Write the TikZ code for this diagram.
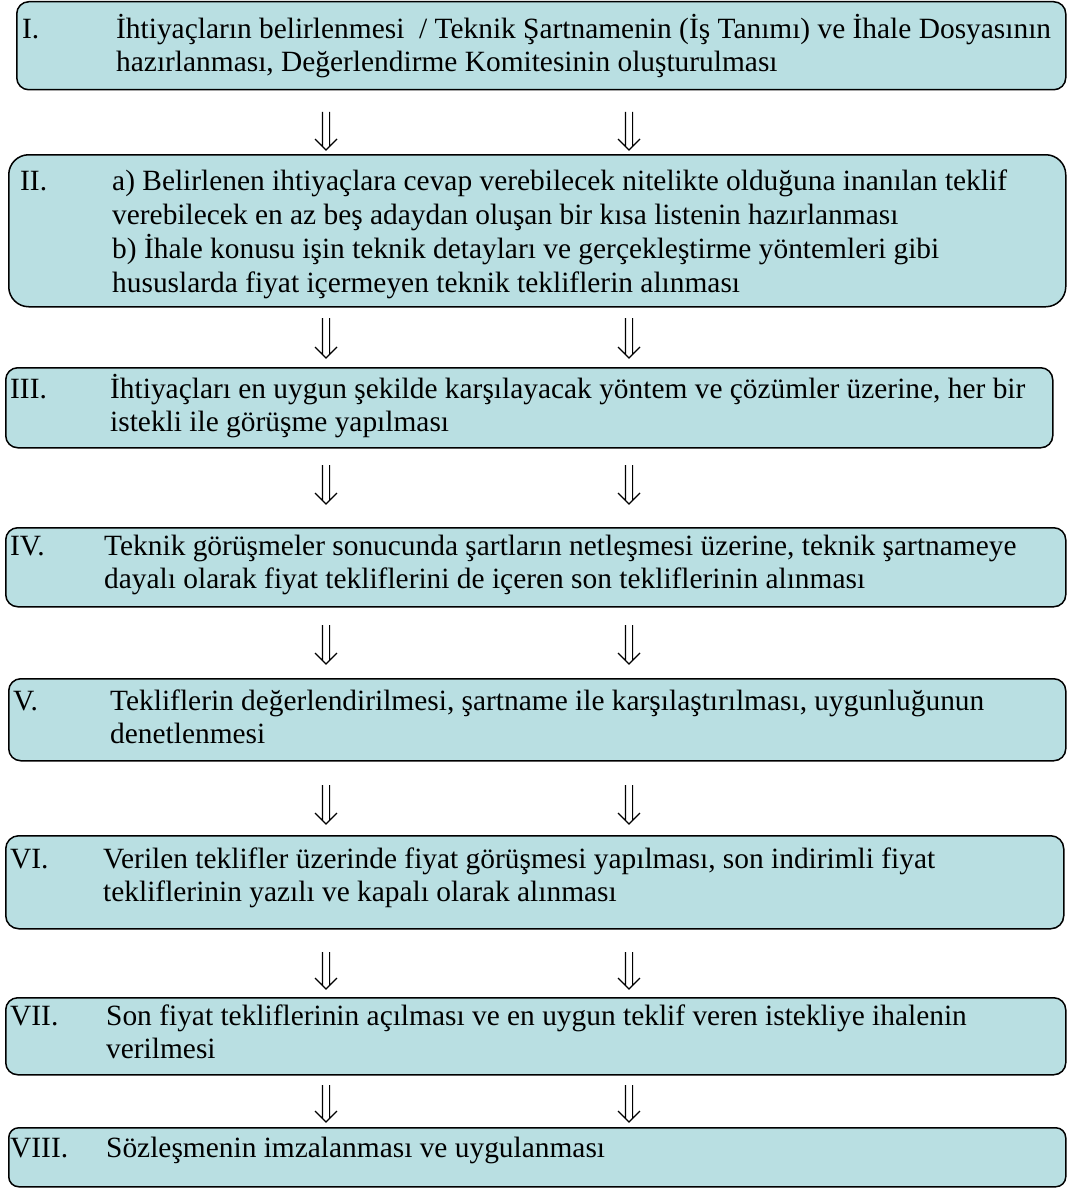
\documentclass[tikz,border=0pt]{standalone}
\usepackage{fontspec}
\setmainfont{Liberation Serif}
\definecolor{boxfill}{RGB}{185,223,226}
\tikzset{
  box/.style={draw=black, line width=1.5pt, fill=boxfill, rectangle, anchor=north west, inner sep=0pt},
  lbl/.style={anchor=base west, inner sep=0pt, font=\fontsize{29.4}{33}\selectfont},
  body/.style={anchor=base west, inner sep=0pt, font=\fontsize{29.4}{33}\selectfont},
  dbl/.style={line width=1.2pt, to path={
    ([xshift=-3.6pt]\tikztostart) -- ([xshift=-3.6pt,yshift=3.6pt]\tikztotarget)
    ([xshift=3.6pt]\tikztostart) -- ([xshift=3.6pt,yshift=3.6pt]\tikztotarget)
    ([xshift=-11pt,yshift=11pt]\tikztotarget) -- (\tikztotarget) -- ([xshift=11pt,yshift=11pt]\tikztotarget)}}
}
\begin{document}
\begin{tikzpicture}[x=1pt,y=-1pt]
\useasboundingbox (0,0) rectangle (1068,1188);
% boxes
\node[box, rounded corners=12pt, minimum width=1049pt, minimum height=88pt] (b1) at (16,1) {};
\node[box, rounded corners=20pt, minimum width=1057pt, minimum height=152pt] (b2) at (8,154) {};
\node[box, rounded corners=12pt, minimum width=1047pt, minimum height=80pt] (b3) at (5,367) {};
\node[box, rounded corners=12pt, minimum width=1060pt, minimum height=79pt] (b4) at (5,527) {};
\node[box, rounded corners=12pt, minimum width=1057pt, minimum height=82pt] (b5) at (8,678) {};
\node[box, rounded corners=13pt, minimum width=1058pt, minimum height=93pt] (b6) at (5,835) {};
\node[box, rounded corners=12pt, minimum width=1060pt, minimum height=77pt] (b7) at (5,997) {};
\node[box, rounded corners=10pt, minimum width=1057pt, minimum height=59pt] (b8) at (8,1127) {};
% labels
\node[lbl] (l1) at (22,39) {I.};
\node[lbl] (l2) at (20,190) {II.};
\node[lbl] (l3) at (10,398) {III.};
\node[lbl] (l4) at (10,555) {IV.};
\node[lbl] (l5) at (13,710) {V.};
\node[lbl] (l6) at (10,868) {VI.};
\node[lbl] (l7) at (10,1025) {VII.};
\node[lbl] (l8) at (10,1157) {VIII.};
% texts
\node[body] (t1) at (116,39) {\vtop{\baselineskip=32.5pt\hbox{İhtiyaçların belirlenmesi \ / Teknik Şartnamenin (İş Tanımı) ve İhale Dosyasının}\hbox{hazırlanması, Değerlendirme Komitesinin oluşturulması}}};
\node[body] (t2) at (112,190) {\vtop{\baselineskip=34pt\hbox{a) Belirlenen ihtiyaçlara cevap verebilecek nitelikte olduğuna inanılan teklif}\hbox{verebilecek en az beş adaydan oluşan bir kısa listenin hazırlanması}\hbox{b) İhale konusu işin teknik detayları ve gerçekleştirme yöntemleri gibi}\hbox{hususlarda fiyat içermeyen teknik tekliflerin alınması}}};
\node[body] (t3) at (110,398) {\vtop{\hbox{İhtiyaçları en uygun şekilde karşılayacak yöntem ve çözümler üzerine, her bir}\hbox{istekli ile görüşme yapılması}}};
\node[body] (t4) at (104,555) {\vtop{\hbox{Teknik görüşmeler sonucunda şartların netleşmesi üzerine, teknik şartnameye}\hbox{dayalı olarak fiyat tekliflerini de içeren son tekliflerinin alınması}}};
\node[body] (t5) at (110,710) {\vtop{\hbox{Tekliflerin değerlendirilmesi, şartname ile karşılaştırılması, uygunluğunun}\hbox{denetlenmesi}}};
\node[body] (t6) at (103,868) {\vtop{\hbox{Verilen teklifler üzerinde fiyat görüşmesi yapılması, son indirimli fiyat}\hbox{tekliflerinin yazılı ve kapalı olarak alınması}}};
\node[body] (t7) at (106,1025) {\vtop{\hbox{Son fiyat tekliflerinin açılması ve en uygun teklif veren istekliye ihalenin}\hbox{verilmesi}}};
\node[body] (t8) at (106,1157) {Sözleşmenin imzalanması ve uygulanması};
% arrow coordinates
\foreach \i/\s/\e in {1/112/150, 2/318/358, 3/465/504, 4/625/664, 5/785/824, 6/952/989, 7/1085/1122}{
  \coordinate (a\i L) at (326,\s);
  \coordinate (e\i L) at (326,\e);
  \coordinate (a\i R) at (629,\s);
  \coordinate (e\i R) at (629,\e);
}
\foreach \i in {1,...,7}{
  \draw[dbl] (a\i L) to (e\i L);
  \draw[dbl] (a\i R) to (e\i R);
}
\end{tikzpicture}
\end{document}
